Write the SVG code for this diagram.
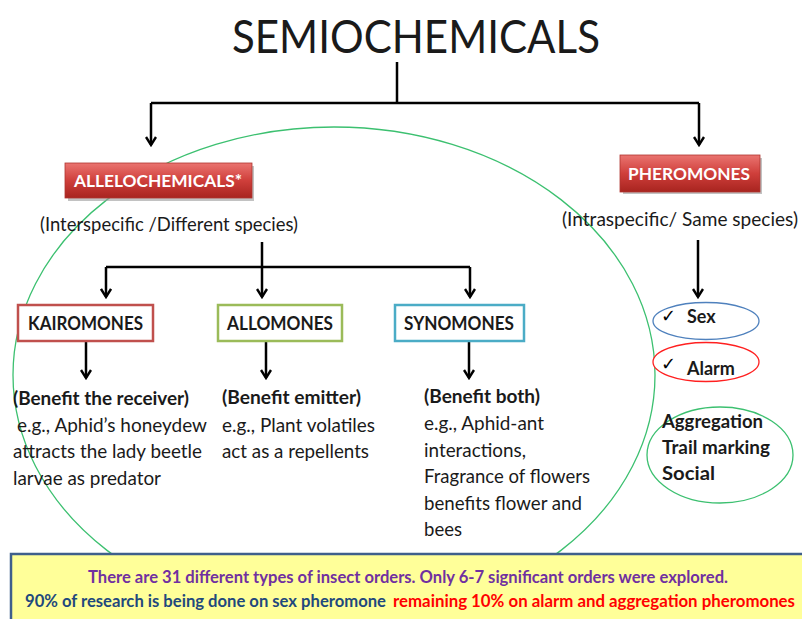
<svg xmlns="http://www.w3.org/2000/svg" width="802" height="619" viewBox="0 0 802 619">
<defs>
<style>
.t{font-family:Lato,"Liberation Sans",sans-serif;fill:#1a1a1a}
.b{font-weight:bold}
.wl{font-family:Lato,"Liberation Sans",sans-serif;font-weight:bold;fill:#fff;font-size:17.5px}
.con{fill:none;stroke:#000;stroke-width:2.5}
.box{fill:#fff;stroke-width:2.5}
.chk{font-family:"DejaVu Sans",sans-serif;font-size:18px;fill:#000}
.note{font-family:Lato,"Liberation Sans",sans-serif;font-weight:bold;font-size:16.5px}
</style>
<marker id="ah" viewBox="0 0 12 12" refX="10" refY="6" markerWidth="12" markerHeight="12" markerUnits="userSpaceOnUse" orient="auto">
<path d="M2,1 L10,6 L2,11" fill="none" stroke="#000" stroke-width="2.4"/>
</marker>
<linearGradient id="rg" x1="0" y1="0" x2="0" y2="1">
<stop offset="0" stop-color="#ea7470"/>
<stop offset="0.5" stop-color="#cf3f3b"/>
<stop offset="1" stop-color="#a8241f"/>
</linearGradient>
</defs>
<rect width="802" height="619" fill="#fff"/>

<g id="ellipse-allelo">
<ellipse cx="334" cy="375" rx="321" ry="248" fill="none" stroke="#3cc070" stroke-width="1.3"/>
</g>

<g id="title">
<text class="t" x="232" y="53" font-size="46" textLength="368" lengthAdjust="spacingAndGlyphs">SEMIOCHEMICALS</text>
</g>

<g id="connectors">
<path class="con" d="M397,62 V103 M151,103 H699"/>
<path class="con" d="M151,103 V145" marker-end="url(#ah)"/>
<path class="con" d="M699,103 V145" marker-end="url(#ah)"/>
<path class="con" d="M262,242 V267 M106,267 H470"/>
<path class="con" d="M106,267 V297" marker-end="url(#ah)"/>
<path class="con" d="M262,267 V297" marker-end="url(#ah)"/>
<path class="con" d="M470,267 V297" marker-end="url(#ah)"/>
<path class="con" d="M86,342 V378" marker-end="url(#ah)"/>
<path class="con" d="M266,342 V378" marker-end="url(#ah)"/>
<path class="con" d="M469,342 V378" marker-end="url(#ah)"/>
<path class="con" d="M698,240 V297" marker-end="url(#ah)"/>
</g>

<g id="allelochemicals">
<rect x="68" y="166" width="186" height="35" fill="#999" opacity="0.6"/>
<rect x="65" y="163" width="187" height="35" fill="url(#rg)" stroke="#b03530" stroke-width="0.8"/>
<text class="wl" x="74" y="187" textLength="168" lengthAdjust="spacingAndGlyphs">ALLELOCHEMICALS*</text>
<text class="t" x="40" y="231" font-size="19" textLength="258" lengthAdjust="spacingAndGlyphs">(Interspecific /Different species)</text>
</g>

<g id="pheromones">
<rect x="623" y="158" width="139" height="36" fill="#999" opacity="0.6"/>
<rect x="620" y="155" width="140" height="37" fill="url(#rg)" stroke="#b03530" stroke-width="0.8"/>
<text class="wl" x="628" y="180" textLength="122" lengthAdjust="spacingAndGlyphs">PHEROMONES</text>
<text class="t" x="562" y="226" font-size="19" textLength="236" lengthAdjust="spacingAndGlyphs">(Intraspecific/ Same species)</text>
</g>

<g id="kairomones">
<rect class="box" x="18" y="305" width="135" height="36" stroke="#c0504d"/>
<text class="t b" x="28" y="330" font-size="18" textLength="115" lengthAdjust="spacingAndGlyphs">KAIROMONES</text>
<text class="t b" x="13" y="405" font-size="19" textLength="176" lengthAdjust="spacingAndGlyphs">(Benefit the receiver)</text>
<text class="t" x="17" y="432" font-size="19" textLength="190" lengthAdjust="spacingAndGlyphs"> e.g., Aphid’s honeydew</text>
<text class="t" x="13" y="458" font-size="19" textLength="189" lengthAdjust="spacingAndGlyphs">attracts the lady beetle</text>
<text class="t" x="13" y="485" font-size="19" textLength="148" lengthAdjust="spacingAndGlyphs">larvae as predator</text>
</g>

<g id="allomones">
<rect class="box" x="218" y="305" width="124" height="36" stroke="#9bbb59"/>
<text class="t b" x="227" y="330" font-size="18" textLength="106" lengthAdjust="spacingAndGlyphs">ALLOMONES</text>
<text class="t b" x="222" y="404" font-size="19" textLength="139" lengthAdjust="spacingAndGlyphs">(Benefit emitter)</text>
<text class="t" x="222" y="432" font-size="19" textLength="153" lengthAdjust="spacingAndGlyphs">e.g., Plant volatiles</text>
<text class="t" x="222" y="458" font-size="19" textLength="147" lengthAdjust="spacingAndGlyphs">act as a repellents</text>
</g>

<g id="synomones">
<rect class="box" x="395" y="305" width="129" height="36" stroke="#4bacc6"/>
<text class="t b" x="404" y="330" font-size="18" textLength="110" lengthAdjust="spacingAndGlyphs">SYNOMONES</text>
<text class="t b" x="424" y="403" font-size="19" textLength="116" lengthAdjust="spacingAndGlyphs">(Benefit both)</text>
<text class="t" x="424" y="430" font-size="19" textLength="120" lengthAdjust="spacingAndGlyphs">e.g., Aphid-ant</text>
<text class="t" x="424" y="457" font-size="19" textLength="102" lengthAdjust="spacingAndGlyphs">interactions,</text>
<text class="t" x="424" y="483" font-size="19" textLength="166" lengthAdjust="spacingAndGlyphs">Fragrance of flowers</text>
<text class="t" x="424" y="510" font-size="19" textLength="158" lengthAdjust="spacingAndGlyphs">benefits flower and</text>
<text class="t" x="424" y="536" font-size="19" textLength="38" lengthAdjust="spacingAndGlyphs">bees</text>
</g>

<g id="sex">
<ellipse cx="706" cy="321" rx="53" ry="18.5" fill="#fff" stroke="#4f81bd" stroke-width="1.3"/>
<text class="chk" x="661" y="322">✓</text>
<text class="t b" x="687" y="323" font-size="18">Sex</text>
</g>

<g id="alarm">
<ellipse cx="706" cy="362" rx="53" ry="19.5" fill="#fff" stroke="#ff2020" stroke-width="1.3"/>
<text class="chk" x="661" y="370">✓</text>
<text class="t b" x="687" y="375" font-size="18">Alarm</text>
</g>

<g id="others">
<ellipse cx="720" cy="455" rx="73" ry="48" fill="none" stroke="#3cc070" stroke-width="1.3"/>
<text class="t b" x="662" y="428" font-size="19" textLength="101" lengthAdjust="spacingAndGlyphs">Aggregation</text>
<text class="t b" x="662" y="454" font-size="19" textLength="108" lengthAdjust="spacingAndGlyphs">Trail marking</text>
<text class="t b" x="662" y="480" font-size="19" textLength="53" lengthAdjust="spacingAndGlyphs">Social</text>
</g>

<g id="note">
<rect x="11" y="554" width="800" height="70" fill="#ffff99" stroke="#3f5f8c" stroke-width="2.5"/>
<text class="note" x="88" y="583" fill="#7030a0" textLength="640" lengthAdjust="spacingAndGlyphs">There are 31 different types of insect orders. Only 6-7 significant orders were explored.</text>
<text class="note" x="25" y="607" fill="#1f497d" textLength="361" lengthAdjust="spacingAndGlyphs">90% of research is being done on sex pheromone</text>
<text class="note" x="393" y="607" fill="#ff0000" textLength="402" lengthAdjust="spacingAndGlyphs">remaining 10% on alarm and aggregation pheromones</text>
</g>
</svg>
